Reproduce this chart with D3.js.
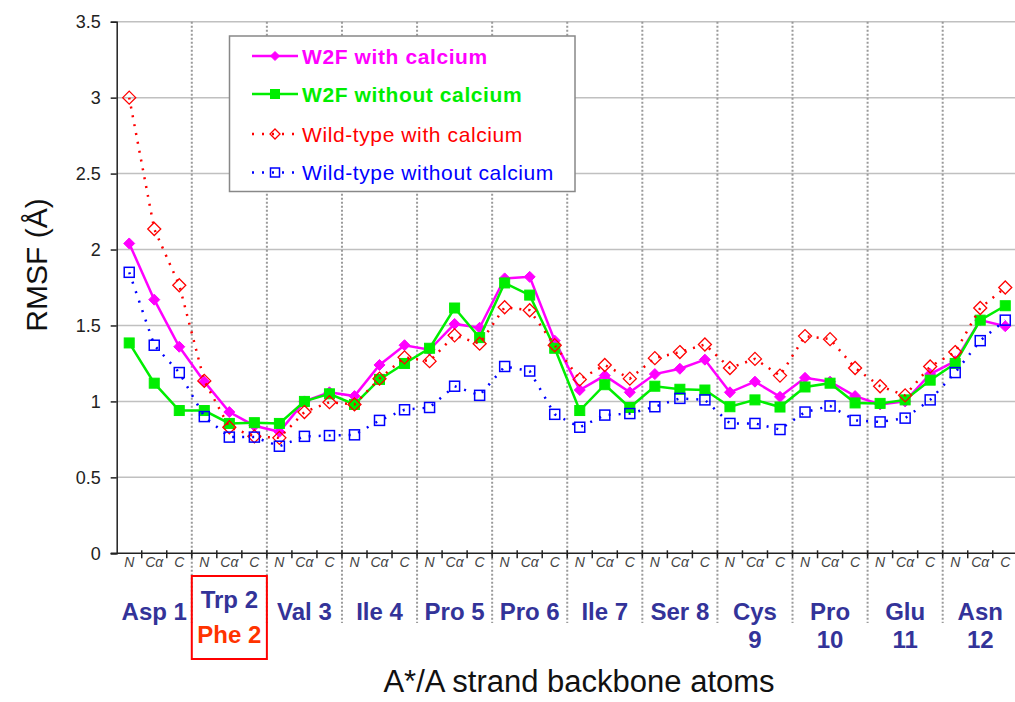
<!DOCTYPE html>
<html>
<head>
<meta charset="utf-8">
<script src="https://cdn.jsdelivr.net/npm/d3@7"></script>
<style>
  body { margin: 0; background: #fff; }
  svg { display: block; font-family: "Liberation Sans", Arial, sans-serif; }
</style>
</head>
<body>
<svg></svg>
<script>
const W = 1015, H = 702;

// residues (outer category level) and backbone atoms (inner level)
const residueLabels = [["Asp 1"], ["Trp 2"], ["Val 3"], ["Ile 4"], ["Pro 5"], ["Pro 6"],
                       ["Ile 7"], ["Ser 8"], ["Cys", "9"], ["Pro", "10"], ["Glu", "11"], ["Asn", "12"]];
const mutantLabel = "Phe 2";
const atoms = ["N", "C\u03b1", "C"];
const yTicks = [0, 0.5, 1, 1.5, 2, 2.5, 3, 3.5];

// RMSF values, one per atom (12 residues x 3 atoms)
const w2fCa = [2.04, 1.67, 1.36, 1.13, 0.93, 0.84, 0.80, 1.00, 1.06, 1.035, 1.24, 1.37,
               1.34, 1.51, 1.485, 1.81, 1.82, 1.40, 1.075, 1.17, 1.06, 1.18, 1.215, 1.275,
               1.06, 1.13, 1.03, 1.155, 1.13, 1.035, 0.98, 1.00, 1.18, 1.265, 1.535, 1.495];
const w2fNoCa = [1.385, 1.12, 0.94, 0.94, 0.855, 0.86, 0.855, 1.00, 1.05, 0.98, 1.145, 1.25,
                 1.35, 1.615, 1.42, 1.78, 1.70, 1.35, 0.94, 1.11, 0.96, 1.10, 1.08, 1.075,
                 0.965, 1.01, 0.963, 1.095, 1.12, 0.99, 0.987, 1.01, 1.14, 1.25, 1.535, 1.63];
const wtCa = [3.00, 2.135, 1.765, 1.135, 0.83, 0.77, 0.76, 0.93, 0.995, 0.98, 1.15, 1.29,
              1.265, 1.435, 1.38, 1.62, 1.60, 1.37, 1.145, 1.24, 1.15, 1.285, 1.325, 1.375,
              1.22, 1.28, 1.17, 1.43, 1.41, 1.22, 1.10, 1.04, 1.23, 1.325, 1.615, 1.75];
const wtNoCa = [1.85, 1.37, 1.19, 0.90, 0.765, 0.765, 0.705, 0.77, 0.775, 0.78, 0.875, 0.945,
                0.96, 1.10, 1.04, 1.23, 1.20, 0.915, 0.83, 0.91, 0.92, 0.965, 1.02, 1.01,
                0.855, 0.855, 0.815, 0.93, 0.97, 0.875, 0.865, 0.89, 1.01, 1.19, 1.40, 1.535];

const seriesNames = ["W2F with calcium", "W2F without calcium", "Wild-type with calcium", "Wild-type without calcium"];

// series styling
const series = [
  {name: seriesNames[0], values: w2fCa,   color: "#ff00ff", dash: null,   marker: "diamond", fill: true,  bold: true},
  {name: seriesNames[1], values: w2fNoCa, color: "#00ee00", dash: null,   marker: "square",  fill: true,  bold: true},
  {name: seriesNames[2], values: wtCa,    color: "#ff0000", dash: "2,7",  marker: "diamond", fill: false, bold: false},
  {name: seriesNames[3], values: wtNoCa,  color: "#0000ff", dash: "2,8",  marker: "square",  fill: false, bold: false}
];

const plot = {left: 116.7, top: 21.7, bottom: 553.3};
const nPts = residueLabels.length * atoms.length;
const step = 25.03;

let svg = d3.select("svg").attr("width", W).attr("height", H);

let x = d3.scaleBand()
    .domain(d3.range(nPts))
    .range([plot.left, plot.left + nPts * step])
    .paddingInner(0).paddingOuter(0);
let cx = i => x(i) + x.bandwidth() / 2;

let y = d3.scaleLinear().domain([0, 3.5]).range([plot.bottom, plot.top]);

// horizontal gridlines
svg.append("g")
  .selectAll("line")
  .data(yTicks.filter(d => d > 0))
  .enter().append("line")
  .attr("x1", plot.left).attr("x2", W)
  .attr("y1", d => y(d)).attr("y2", d => y(d))
  .attr("stroke", "#c0c0c0").attr("stroke-width", 1.5);

// dotted residue separators, running from the top down through the label area
svg.append("g")
  .selectAll("line")
  .data(d3.range(1, residueLabels.length))
  .enter().append("line")
  .attr("x1", i => x(i * 3)).attr("x2", i => x(i * 3))
  .attr("y1", plot.top).attr("y2", 623)
  .attr("stroke", "#9a9a9a").attr("stroke-width", 2)
  .attr("stroke-dasharray", "2,2");

// y axis
let yAxis = svg.append("g")
  .attr("transform", `translate(${plot.left},0)`)
  .call(d3.axisLeft(y).tickValues(yTicks).tickSize(6).tickPadding(10).tickFormat(d3.format("")));
yAxis.select(".domain").attr("stroke", "#222").attr("stroke-width", 1.5);
yAxis.selectAll(".tick line").attr("stroke", "#222").attr("stroke-width", 1.5);
yAxis.selectAll(".tick text").attr("font-size", 18).attr("fill", "#222")
  .attr("font-family", "'Liberation Sans', Arial, sans-serif");

// x axis line with ticks at atom boundaries
svg.append("line")
  .attr("x1", plot.left - 6).attr("x2", W)
  .attr("y1", plot.bottom).attr("y2", plot.bottom)
  .attr("stroke", "#222").attr("stroke-width", 1.5);
svg.append("g")
  .selectAll("line")
  .data(d3.range(1, nPts))
  .enter().append("line")
  .attr("x1", i => x(i)).attr("x2", i => x(i))
  .attr("y1", plot.bottom - 3).attr("y2", plot.bottom + 5)
  .attr("stroke", "#222").attr("stroke-width", 1.5);

// atom labels
svg.append("g")
  .selectAll("text")
  .data(d3.range(nPts))
  .enter().append("text")
  .attr("x", i => cx(i))
  .attr("y", 567)
  .attr("text-anchor", "middle")
  .attr("font-size", 14)
  .attr("font-style", "italic")
  .attr("fill", "#444")
  .text(i => atoms[i % 3]);

// residue labels
let resG = svg.append("g")
  .selectAll("text")
  .data(residueLabels)
  .enter().append("text")
  .attr("x", (d, i) => cx(i * 3 + 1))
  .attr("y", (d, i) => i === 1 ? 608 : 620)
  .attr("text-anchor", "middle")
  .attr("font-size", 24)
  .attr("font-weight", "bold")
  .attr("fill", "#333399");
resG.selectAll("tspan")
  .data(d => d)
  .enter().append("tspan")
  .attr("x", function() { return this.parentNode.getAttribute("x"); })
  .attr("dy", (d, j) => j === 0 ? 0 : 28)
  .text(d => d);

// mutant annotation box
svg.append("text")
  .attr("x", cx(4)).attr("y", 643)
  .attr("text-anchor", "middle")
  .attr("font-size", 24).attr("font-weight", "bold")
  .attr("fill", "#ff3300")
  .text(mutantLabel);
svg.append("rect")
  .attr("x", x(3)).attr("y", 576)
  .attr("width", x(6) - x(3)).attr("height", 83)
  .attr("fill", "none").attr("stroke", "#ff0000").attr("stroke-width", 2);

// axis titles
svg.append("text")
  .attr("x", 579).attr("y", 692)
  .attr("text-anchor", "middle")
  .attr("font-size", 31).attr("fill", "#111")
  .text("A*/A strand backbone atoms");
svg.append("text")
  .attr("transform", "translate(47,265) rotate(-90)")
  .attr("text-anchor", "middle")
  .attr("font-size", 30).attr("fill", "#111")
  .text("RMSF (\u00c5)");

// markers
let drawMarker = (g, s, px, py, size) => {
  if (s.marker === "diamond") {
    let r = size / 2;
    g.append("path")
      .attr("d", `M${px},${py - r}L${px + r},${py}L${px},${py + r}L${px - r},${py}Z`)
      .attr("fill", s.fill ? s.color : "none")
      .attr("stroke", s.color).attr("stroke-width", s.fill ? 1 : 1.3);
  } else {
    let r = size / 2;
    g.append("rect")
      .attr("x", px - r).attr("y", py - r).attr("width", size).attr("height", size)
      .attr("fill", s.fill ? s.color : "none")
      .attr("stroke", s.color).attr("stroke-width", s.fill ? 1 : 1.5);
  }
};

let line = d3.line().x((d, i) => cx(i)).y(d => y(d));

series.forEach(s => {
  let g = svg.append("g");
  g.append("path")
    .attr("d", line(s.values))
    .attr("fill", "none")
    .attr("stroke", s.color)
    .attr("stroke-width", 2.5)
    .attr("stroke-dasharray", s.dash);
  s.values.forEach((v, i) => {
    let size = s.marker === "diamond" ? (s.fill ? 11 : 13) : (s.fill ? 10 : 10);
    drawMarker(g, s, cx(i), y(v), size);
  });
});

// legend
let lg = svg.append("g");
lg.append("rect")
  .attr("x", 229.5).attr("y", 36).attr("width", 345.5).attr("height", 155.5)
  .attr("fill", "#fff").attr("stroke", "#888").attr("stroke-width", 1.5);
let rowY = [56, 94, 134, 172.5];
series.forEach((s, k) => {
  lg.append("line")
    .attr("x1", 252).attr("x2", 298)
    .attr("y1", rowY[k]).attr("y2", rowY[k])
    .attr("stroke", s.color).attr("stroke-width", 2.5)
    .attr("stroke-dasharray", s.dash ? "2,8" : null);
  let size = s.marker === "diamond" ? (s.fill ? 9 : 10) : (s.fill ? 9 : 9);
  drawMarker(lg, s, 275, rowY[k], size);
  lg.append("text")
    .attr("x", 302).attr("y", rowY[k])
    .attr("dy", "0.36em")
    .attr("font-size", 21)
    .attr("letter-spacing", 0.6)
    .attr("font-weight", s.bold ? "bold" : "normal")
    .attr("fill", s.color)
    .text(s.name);
});
</script>
</body>
</html>
